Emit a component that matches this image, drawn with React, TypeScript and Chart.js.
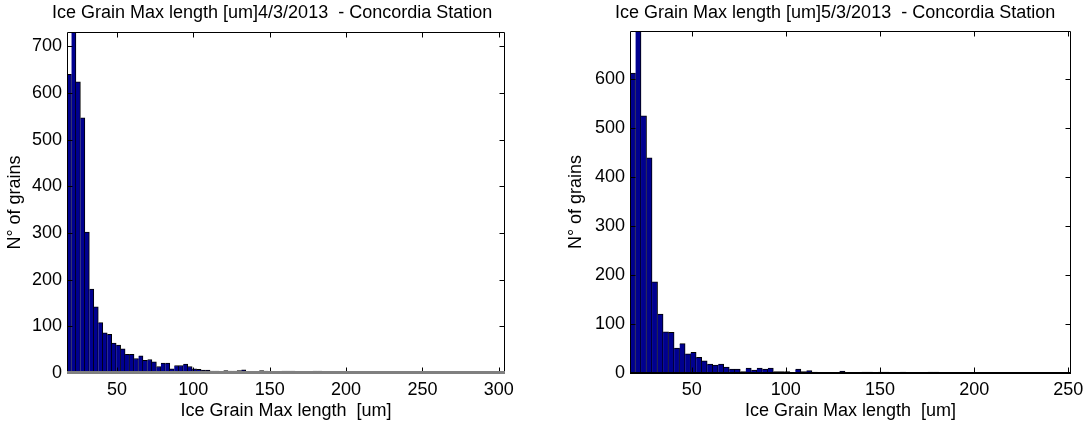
import React, { useEffect, useRef } from "react";
import { Chart, registerables } from "chart.js";

Chart.register(...registerables);

const FONT = "'Liberation Sans', Arial, Helvetica, sans-serif";

// histogram bin layout (um)
const X_MIN = 17.25;
const BIN_WIDTH = 2.927;

const LEFT_TITLE = "Ice Grain Max length [um]4/3/2013  - Concordia Station";
const RIGHT_TITLE = "Ice Grain Max length [um]5/3/2013  - Concordia Station";
const X_LABEL = "Ice Grain Max length  [um]";
const Y_LABEL = "N° of grains";

const X_TICKS_LEFT = [50, 100, 150, 200, 250, 300];
const X_TICKS_RIGHT = [50, 100, 150, 200, 250];
const Y_TICKS_LEFT = [0, 100, 200, 300, 400, 500, 600, 700];
const Y_TICKS_RIGHT = [0, 100, 200, 300, 400, 500, 600];

// counts per bin, 4/3/2013 (98 bins)
const LEFT_COUNTS = [
  640, 731, 624, 547, 302, 180, 142, 108, 86, 83,
  64, 60, 52, 40, 40, 31, 37, 27, 29, 24,
  14, 21, 21, 9, 16, 16, 19, 14, 9, 8,
  6, 6, 4, 4, 3, 5, 4, 4, 5, 7,
  3, 3, 1, 5, 4, 1, 1, 0, 4, 4,
  4, 0, 0, 1, 0, 4, 4, 0, 0, 0,
  0, 0, 0, 0, 0, 0, 0, 0, 0, 0,
  0, 0, 0, 0, 0, 0, 0, 0, 0, 0,
  0, 0, 0, 0, 0, 0, 0, 0, 0, 0,
  0, 0, 0, 0, 0, 0, 0, 0,
];

// counts per bin, 5/3/2013 (80 bins)
const RIGHT_COUNTS = [
  612, 698, 525, 439, 186, 120, 84, 83, 51, 60,
  39, 42, 32, 25, 18, 16, 18, 12, 8, 8,
  3, 10, 6, 10, 8, 10, 3, 3, 3, 1,
  8, 3, 5, 2, 1, 1, 1, 0, 4, 0,
  0, 0, 2, 2, 0, 2, 2, 0, 0, 2,
  0, 0, 0, 0, 2, 2, 0, 0, 0, 0,
  0, 0, 0, 0, 0, 0, 0, 0, 0, 0,
  0, 0, 0, 0, 0, 0, 0, 0, 0, 0,
];

type Layout = {
  left: number;
  width: number;
  yWidth: number;
  padTop: number;
  padRight: number;
  titleX: number;
  yTitlePad: number;
  bottomColor: string;
  bottomWidth: number;
};

const LEFT_LAYOUT: Layout = {
  left: 0, width: 542, yWidth: 67, padTop: 32, padRight: 37,
  titleX: 52, yTitlePad: 4, bottomColor: "#808080", bottomWidth: 3,
};
const RIGHT_LAYOUT: Layout = {
  left: 542, width: 543, yWidth: 88, padTop: 31, padRight: 14,
  titleX: 73, yTitlePad: 23, bottomColor: "#000000", bottomWidth: 2,
};

const HEIGHT = 423;

const framePlugin = {
  id: "frame",
  afterDatasetsDraw(chart: any, _args: any, opts: any) {
    const { ctx, chartArea: a, scales } = chart;
    ctx.save();
    ctx.strokeStyle = "#000";
    ctx.lineWidth = 1;
    const line = (x1: number, y1: number, x2: number, y2: number) => {
      ctx.beginPath();
      ctx.moveTo(x1, y1);
      ctx.lineTo(x2, y2);
      ctx.stroke();
    };
    const L = Math.round(a.left) + 0.5;
    const R = Math.round(a.right) - 0.5;
    const T = Math.round(a.top) + 0.5;
    const B = Math.round(a.bottom) - 0.5;
    const TL = 5;
    (opts.xTicks as number[]).forEach((v) => {
      const px = Math.round(scales.x.getPixelForValue(v)) + 0.5;
      line(px, B, px, B - TL);
      line(px, T, px, T + TL);
    });
    (opts.yTicks as number[]).forEach((v) => {
      const py = Math.round(scales.y.getPixelForValue(v)) + 0.5;
      line(L, py, L + TL, py);
      line(R, py, R - TL, py);
    });
    line(L, T, R, T);
    line(R, T, R, B);
    line(L, T, L, B + 1);
    ctx.strokeStyle = opts.bottomColor;
    ctx.lineWidth = opts.bottomWidth;
    line(L - 0.5, Math.round(a.bottom) - opts.bottomWidth / 2 + 1, R + 0.5, Math.round(a.bottom) - opts.bottomWidth / 2 + 1);
    ctx.fillStyle = "#000";
    ctx.font = `18px ${FONT}`;
    ctx.textAlign = "left";
    ctx.textBaseline = "alphabetic";
    ctx.fillText(opts.title, opts.titleX, 18);
    ctx.restore();
  },
};

function Histogram(props: {
  counts: number[];
  title: string;
  xTicks: number[];
  yTicks: number[];
  layout: Layout;
}) {
  const ref = useRef<HTMLCanvasElement | null>(null);
  const { counts, title, xTicks, yTicks, layout } = props;

  useEffect(() => {
    if (!ref.current) return;
    const xMax = X_MIN + BIN_WIDTH * counts.length;
    const yMax = Math.max(...counts);
    const points = counts.map((c, i) => ({ x: X_MIN + BIN_WIDTH * (i + 0.5), y: c }));
    const tickFont = { family: FONT, size: 18 };
    const chart = new Chart(ref.current, {
      type: "bar",
      data: {
        datasets: [
          {
            data: points as any,
            backgroundColor: "#00008F",
            borderColor: "#000000",
            borderWidth: { top: 1, right: 1, left: 0, bottom: 0 } as any,
            barPercentage: 1,
            categoryPercentage: 1,
          },
        ],
      },
      options: {
        animation: false,
        responsive: false,
        events: [],
        layout: { padding: { top: layout.padTop, right: layout.padRight, left: 0, bottom: 0 } },
        plugins: {
          legend: { display: false },
          tooltip: { enabled: false },
          title: { display: false },
          frame: {
            xTicks,
            yTicks,
            title,
            titleX: layout.titleX,
            bottomColor: layout.bottomColor,
            bottomWidth: layout.bottomWidth,
          },
        } as any,
        scales: {
          x: {
            type: "linear",
            min: X_MIN,
            max: xMax,
            offset: false,
            afterBuildTicks: (s: any) => {
              s.ticks = xTicks.map((v) => ({ value: v }));
            },
            afterFit: (s: any) => {
              s.height = 50;
              s.paddingLeft = 0;
              s.paddingRight = 0;
            },
            grid: { display: false, drawTicks: false },
            border: { display: false },
            ticks: {
              font: tickFont,
              color: "#000",
              padding: 6,
              maxRotation: 0,
              autoSkip: false,
              callback: (v: any) => String(v),
            },
            title: {
              display: true,
              text: X_LABEL,
              color: "#000",
              font: tickFont,
              padding: { top: 0, bottom: 1 },
            },
          },
          y: {
            type: "linear",
            min: 0,
            max: yMax,
            afterBuildTicks: (s: any) => {
              s.ticks = yTicks.map((v) => ({ value: v }));
            },
            afterFit: (s: any) => {
              s.width = layout.yWidth;
              s.paddingTop = 0;
              s.paddingBottom = 0;
            },
            grid: { display: false, drawTicks: false },
            border: { display: false },
            ticks: {
              font: tickFont,
              color: "#000",
              padding: 5,
              callback: (v: any) => String(v),
            },
            title: {
              display: true,
              text: Y_LABEL,
              color: "#000",
              font: tickFont,
              padding: { top: layout.yTitlePad, bottom: 0 },
            },
          },
        },
      },
      plugins: [framePlugin],
    });
    return () => chart.destroy();
  }, [counts, title, xTicks, yTicks, layout]);

  return (
    <canvas
      ref={ref}
      width={layout.width}
      height={HEIGHT}
      style={{ position: "absolute", left: layout.left, top: 0, width: layout.width, height: HEIGHT }}
    />
  );
}

export default function App() {
  return (
    <div style={{ position: "absolute", left: 0, top: 0, width: 1085, height: HEIGHT, background: "#fff" }}>
      <Histogram counts={LEFT_COUNTS} title={LEFT_TITLE} xTicks={X_TICKS_LEFT} yTicks={Y_TICKS_LEFT} layout={LEFT_LAYOUT} />
      <Histogram counts={RIGHT_COUNTS} title={RIGHT_TITLE} xTicks={X_TICKS_RIGHT} yTicks={Y_TICKS_RIGHT} layout={RIGHT_LAYOUT} />
    </div>
  );
}
